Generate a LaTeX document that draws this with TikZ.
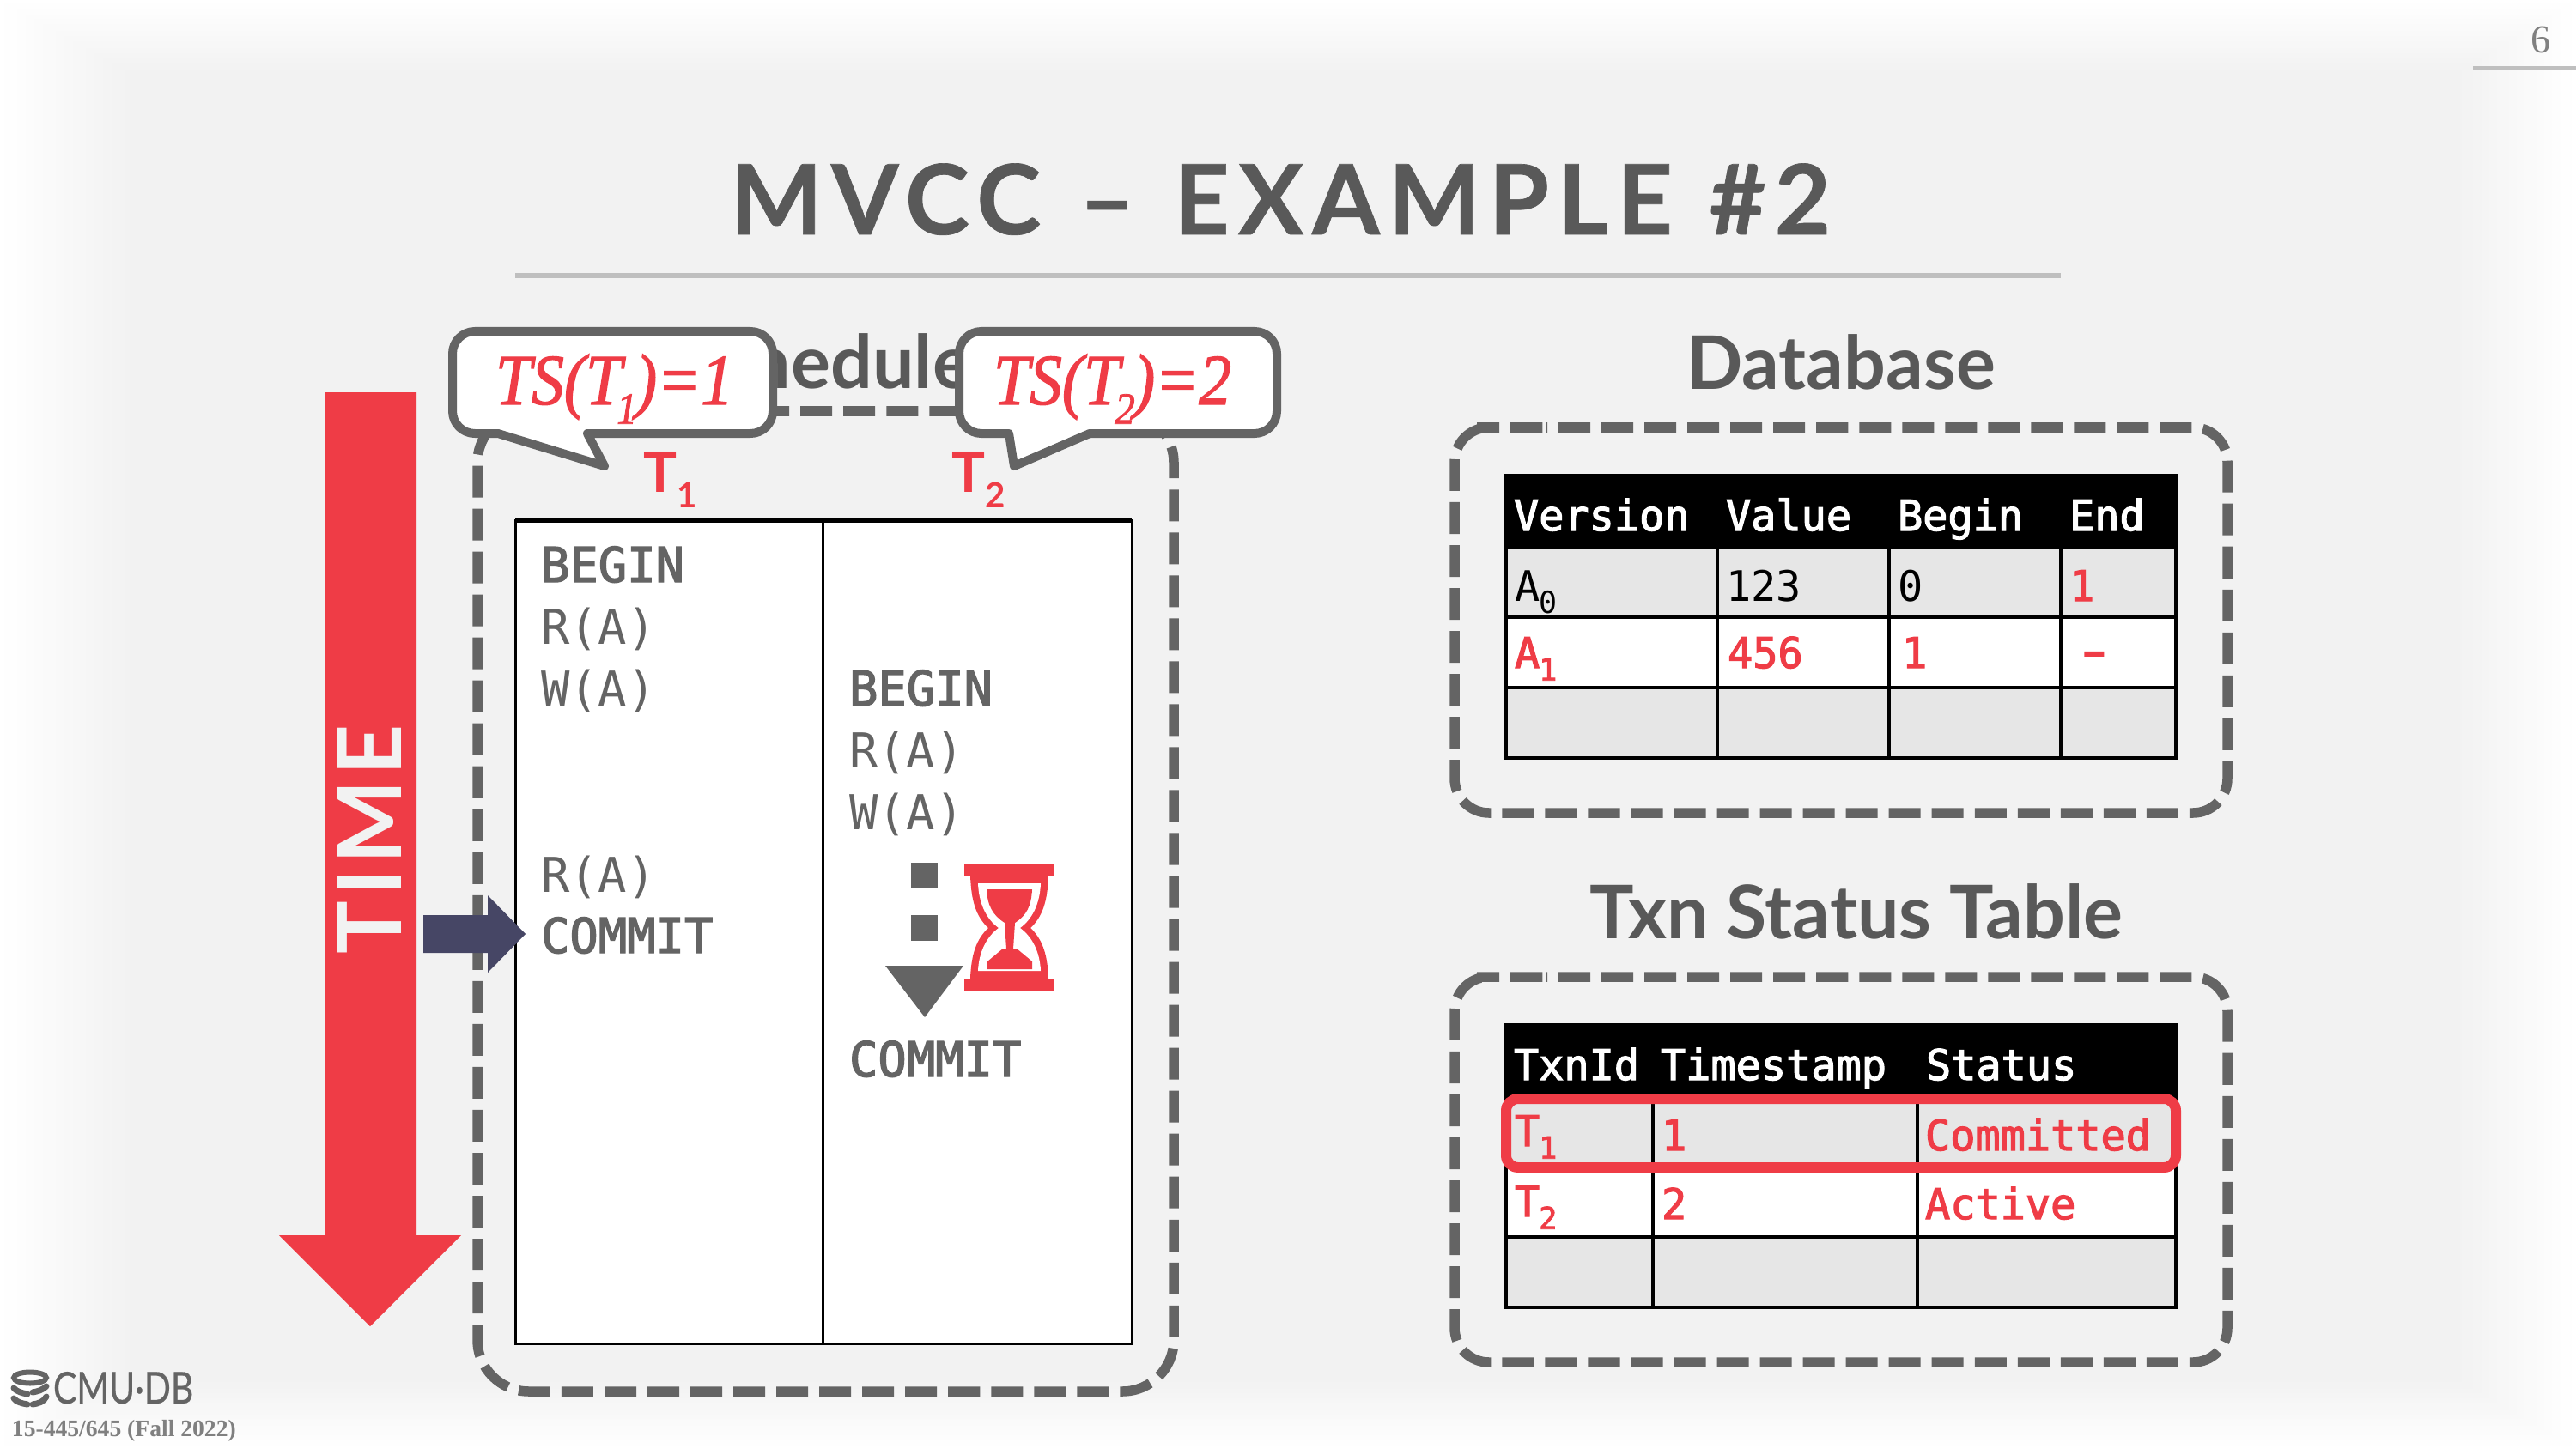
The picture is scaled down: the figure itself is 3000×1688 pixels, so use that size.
\documentclass[tikz,border=0pt]{standalone}
\usepackage{fontspec}
\usepackage{graphicx}
\setmainfont{Lato}
\newfontfamily\latof{Lato}
\newfontfamily\latologo{Lato}[FakeStretch=0.8,FakeBold=0.5]
\newfontfamily\latotitle{Lato}[LetterSpace=9,FakeBold=0.6]
\newfontfamily\latotime{Lato}[LetterSpace=6]
\newfontfamily\monof{DejaVu Sans Mono}[FakeStretch=0.99]
\newfontfamily\monob{DejaVu Sans Mono}[FakeStretch=0.99,FakeBold=2.5]
\newfontfamily\bubf{Liberation Serif Italic}[FakeStretch=0.9,FakeBold=1.5]
\newfontfamily\footf{Liberation Serif}
\newcommand\fs[1]{\fontsize{\the\dimexpr#1pt*2845/10000\relax}{\the\dimexpr#1pt*2845/10000\relax}\selectfont}
\newcommand\subtxt[2]{\kern#1\raisebox{-.28em}{\scalebox{.62}{#2}}}
\newcommand\subtab[1]{\kern-.02em\raisebox{-.3em}{\scalebox{.72}{#1}}}
\newcommand\bubble[1]{\bubf\fs{84}TS(T\kern-.07em\raisebox{-.27em}{\scalebox{.62}{#1}}\kern-.02em)=}
\definecolor{cred}{HTML}{EF3C46}
\definecolor{cgray}{HTML}{646464}
\definecolor{chead}{HTML}{595959}
\definecolor{crule}{HTML}{BFBFBF}
\definecolor{cbg}{HTML}{F2F2F2}
\definecolor{ccell}{HTML}{E6E6E6}
\definecolor{cblue}{HTML}{464665}
\tikzset{
  txt/.style={inner sep=0pt,outer sep=0pt,anchor=base west},
  dashbox/.style={draw=cgray,line width=0.115cm,rounded corners=0.40cm,dash pattern=on 0.37cm off 0.13cm},
  callout/.style={draw=cgray,fill=white,line width=0.1cm,rounded corners=0.26cm,line join=round},
  grid/.style={draw=black,line width=0.036cm},
  hd/.style={txt,text=white,font=\monob\fs{49}},
  cellk/.style={txt,text=black,font=\monof\fs{49}},
  cellr/.style={txt,text=cred,font=\monob\fs{49}},
  sched/.style={txt,text=cgray,font=\monof\fs{56}},
  schedb/.style={txt,text=cgray,font=\monob\fs{56}},
  heading/.style={txt,text=chead,font=\latof\bfseries\fs{86}},
}
\begin{document}
\begin{tikzpicture}[x=0.01cm,y=-0.01cm]
\useasboundingbox (0,0) rectangle (3000,1688);
% background with soft edges
\fill[white] (0,0) rectangle (3000,1688);
\foreach \i in {0,...,29}{
  \pgfmathsetmacro\t{\i/29*100}
  \fill[cbg!\t!white] (\i*5,\i*2.8) rectangle (3000-\i*4.6,1688-\i*2.7);
}
% title
\node[txt,text=chead,font=\latotitle\bfseries\fs{113}] (title) at (851,273) {MVCC\hspace{0.07cm} – \hspace{0.07cm}EXAMPLE\hspace{0.05cm} \#2};
\draw[crule,line width=0.05cm] (600,321) coordinate (ruleA) -- (2400,321) coordinate (ruleB);
% page number
\node[txt,text=gray,font=\footf\fs{46}] (pagenum) at (2947,62) {6};
\draw[crule,line width=0.05cm] (2880,80) coordinate (pageA) -- (3000,80) coordinate (pageB);
% schedule
\node[heading,anchor=base] (schedhead) at (958,452) {Schedule};
\draw[dashbox,rounded corners=0.6cm] (622,479) -- (1367,479) -- (1367,1621) -- (556,1621) -- (556,479) -- cycle;
\draw[draw=black,line width=0.03cm,fill=white] (600,606) rectangle (1318,1565);
\draw[draw=black,line width=0.05cm] (600,606) -- (1318,606);
\draw[draw=black,line width=0.03cm] (958,606) -- (958,1565);
% time arrow
\fill[cred] (378,457) -- (485,457) -- (485,1439) -- (537,1439) -- (431,1545) -- (325,1439) -- (378,1439) -- cycle;
\node[inner sep=0pt,text=cbg,font=\latotime\bfseries\fs{103},rotate=90,anchor=base] (timelbl) at (467,978) {TIME};
% schedule text
\node[schedb] (b1) at (630,678) {BEGIN};
\node[sched] (r1) at (630,750) {R(A)};
\node[sched] (w1) at (630,822) {W(A)};
\node[sched] (r1b) at (630,1039) {R(A)};
\node[schedb] (c1) at (630,1110) {COMMIT};
\node[schedb] (b2) at (989,822) {BEGIN};
\node[sched] (r2) at (989,894) {R(A)};
\node[sched] (w2) at (989,966) {W(A)};
\node[schedb] (c2) at (989,1254) {COMMIT};
% wait dots and triangle
\fill[cgray] (1061,1005) rectangle (1092,1035);
\fill[cgray] (1061,1066) rectangle (1092,1096);
\fill[cgray] (1031,1125) -- (1122,1125) -- (1077,1185) -- cycle;
% hourglass
\fill[cred] (1123,1006) rectangle (1227,1020);
\fill[cred] (1123,1140) rectangle (1227,1154);
\fill[cred] (1130,1020) .. controls (1131,1050) and (1137,1068) .. (1151,1081)
  .. controls (1137,1094) and (1131,1112) .. (1130,1140) -- (1221,1140)
  .. controls (1220,1112) and (1214,1094) .. (1200,1081)
  .. controls (1214,1068) and (1220,1050) .. (1221,1020) -- cycle;
\fill[white] (1139,1029) .. controls (1140,1052) and (1148,1070) .. (1163,1081)
  .. controls (1148,1092) and (1140,1110) .. (1139,1131) -- (1212,1131)
  .. controls (1211,1110) and (1203,1092) .. (1188,1081)
  .. controls (1203,1070) and (1211,1052) .. (1212,1029) -- cycle;
\fill[cred] (1149,1036) -- (1202,1036) .. controls (1201,1055) and (1196,1066) .. (1182,1075)
  -- (1180,1105) -- (1184,1105) -- (1202,1120) -- (1202,1129) -- (1150,1129) -- (1150,1120) -- (1168,1105) -- (1172,1105)
  -- (1170,1075) .. controls (1156,1066) and (1150,1055) .. (1149,1036) -- cycle;
% blue arrow
\fill[cblue] (493,1066) -- (568,1066) -- (568,1043) -- (612,1088) -- (568,1133) -- (568,1110) -- (493,1110) -- cycle;
% callouts
\draw[callout] (700,386) -- (900,386) -- (900,505) [sharp corners] -- (684,505) -- (704,543) -- (580,505) [rounded corners=0.26cm] -- (527,505) -- (527,386) -- cycle;
\draw[callout] (1300,386) -- (1487,386) -- (1487,505) [sharp corners] -- (1269,505) -- (1181,543) -- (1175,505) [rounded corners=0.26cm] -- (1117,505) -- (1117,386) -- cycle;
\node[txt,text=cred] (ts1) at (577,471) {\bubble{1}1};
\node[txt,text=cred] (ts2) at (1157,471) {\bubble{2}2};
\node[txt,text=cred,font=\latof\bfseries\fs{65}] (t1lbl) at (749,573) {T\subtxt{0pt}{1}};
\node[txt,text=cred,font=\latof\bfseries\fs{65}] (t2lbl) at (1108,573) {T\subtxt{0pt}{2}};
% database
\node[heading,anchor=base] (dbhead) at (2144,453) {Database};
\draw[dashbox,dash phase=0.35cm] (1760,498) -- (2594,498) -- (2594,947) -- (1694,947) -- (1694,498) -- cycle;
\fill[ccell] (1754,638) rectangle (2534,719);
\fill[white] (1754,719) rectangle (2534,801);
\fill[ccell] (1754,801) rectangle (2534,883);
\fill[black] (1752,552) rectangle (2536,638);
\draw[grid] (1754,638) rectangle (2534,883);
\draw[grid] (1754,719) -- (2534,719);
\draw[grid] (1754,801) -- (2534,801);
\draw[grid] (2000,638) -- (2000,883);
\draw[grid] (2200,638) -- (2200,883);
\draw[grid] (2400,638) -- (2400,883);
\node[hd] (dh1) at (1763,618) {Version};
\node[hd] (dh2) at (2010,618) {Value};
\node[hd] (dh3) at (2210,618) {Begin};
\node[hd] (dh4) at (2410,618) {End};
\node[cellk] (da1) at (1764,700) {A\subtab{0}};
\node[cellk] (da2) at (2010,700) {123};
\node[cellk] (da3) at (2210,700) {0};
\node[cellr] (da4) at (2410,700) {1};
\node[cellr] (db1) at (1764,778) {A\subtab{1}};
\node[cellr] (db2) at (2012,778) {456};
\node[cellr] (db3) at (2215,778) {1};
\node[cellr] (db4) at (2414,778) {\scalebox{1.7}[1.2]{-}};
% txn status table
\node[heading,anchor=base] (txnhead) at (2162,1093) {Txn Status Table};
\draw[dashbox,dash phase=0.35cm] (1760,1138) -- (2594,1138) -- (2594,1587) -- (1694,1587) -- (1694,1138) -- cycle;
\fill[ccell] (1754,1277) rectangle (2534,1359);
\fill[white] (1754,1359) rectangle (2534,1441);
\fill[ccell] (1754,1441) rectangle (2534,1523);
\fill[black] (1752,1192) rectangle (2536,1278);
\draw[grid] (1754,1277) rectangle (2534,1523);
\draw[grid] (1754,1441) -- (2534,1441);
\draw[grid] (1925,1277) -- (1925,1523);
\draw[grid] (2233,1277) -- (2233,1523);
\node[hd] (th1) at (1763,1258) {TxnId};
\node[hd] (th2) at (1934,1258) {Timestamp};
\node[hd] (th3) at (2243,1258) {Status};
\node[cellr] (ta1) at (1764,1335) {T\subtab{1}};
\node[cellr] (ta2) at (1935,1340) {1};
\node[cellr] (ta3) at (2242,1340) {Committed};
\node[cellr] (tb1) at (1764,1417) {T\subtab{2}};
\node[cellr] (tb2) at (1935,1420) {2};
\node[cellr] (tb3) at (2242,1420) {Active};
\draw[cred,line width=0.12cm,rounded corners=0.14cm] (1754,1280) rectangle (2534,1360);
% logo
\draw[cgray,line width=0.06cm] (35,1605) ellipse (19 and 6.5);
\draw[cgray,line width=0.07cm,line cap=round] (16,1617) .. controls (19,1621) and (26,1623) .. (32,1624);
\draw[cgray,line width=0.07cm,line cap=round] (38,1622) .. controls (44,1621) and (50,1619) .. (54,1615);
\draw[cgray,line width=0.07cm,line cap=round] (16,1629) .. controls (19,1633) and (25,1635) .. (32,1636);
\draw[cgray,line width=0.07cm,line cap=round] (38,1636) .. controls (45,1635) and (51,1633) .. (54,1627);
\node[txt,text=cgray,font=\latologo\fs{51}] (logo) at (62,1635) {CMU·DB};
\node[txt,text=gray,font=\footf\bfseries\fs{27.6}] (course) at (14,1673) {15-445/645 (Fall 2022)};
\end{tikzpicture}
\end{document}
